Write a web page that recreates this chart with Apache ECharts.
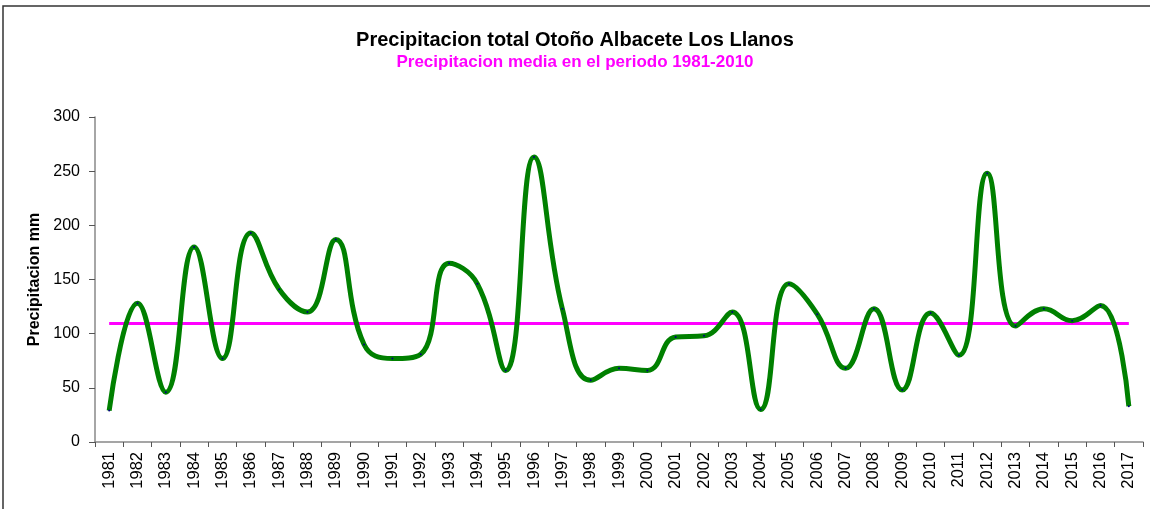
<!DOCTYPE html>
<html>
<head>
<meta charset="utf-8">
<script src="https://cdn.jsdelivr.net/npm/echarts@6/dist/echarts.min.js"></script>
<style>
  html, body { margin: 0; padding: 0; background: #fff; }
  #chart { width: 1150px; height: 509px; }
</style>
</head>
<body>
<div id="chart"></div>
<script>
var years = ["1981","1982","1983","1984","1985","1986","1987","1988","1989","1990",
  "1991","1992","1993","1994","1995","1996","1997","1998","1999","2000",
  "2001","2002","2003","2004","2005","2006","2007","2008","2009","2010",
  "2011","2012","2013","2014","2015","2016","2017"];
var precip = [29, 128, 46, 180, 77, 193, 141, 120, 187, 90,
  77, 81, 165, 146, 66, 263, 123, 57, 68, 66,
  97, 98, 120, 30, 146, 118, 68, 123, 48, 119,
  80, 248, 107, 123, 112, 126, 33];
var meanValue = 110;
var yTicks = [0, 50, 100, 150, 200, 250, 300];

var chart = echarts.init(document.getElementById("chart"));
var font = "Liberation Sans, Arial, sans-serif";

var option = {
  animation: false,
  backgroundColor: "#fff",
  title: [
    {
      text: "Precipitacion total Otoño Albacete Los Llanos",
      left: "center",
      top: 25,
      textStyle: { fontFamily: font, fontSize: 20, fontWeight: "bold", color: "#000" }
    },
    {
      text: "Precipitacion media en el periodo 1981-2010",
      left: "center",
      top: 49,
      textStyle: { fontFamily: font, fontSize: 17, fontWeight: "bold", color: "#ff00ff" }
    }
  ],
  graphic: [
    {
      type: "polyline",
      shape: { points: [[3, 509], [3, 6], [1150, 6]] },
      style: { stroke: "#333", lineWidth: 1.5, fill: null }
    }
  ],
  grid: { left: 95, right: 7, top: 117, bottom: 67 },
  xAxis: {
    type: "category",
    data: years,
    boundaryGap: true,
    axisLine: { lineStyle: { color: "#888", width: 1.5 } },
    axisTick: { show: true, length: 5, lineStyle: { color: "#555" } },
    axisLabel: {
      rotate: 90,
      interval: 0,
      fontFamily: font,
      fontSize: 16.5,
      color: "#000",
      margin: 10
    },
    splitLine: { show: false }
  },
  yAxis: {
    type: "value",
    min: yTicks[0],
    max: yTicks[yTicks.length - 1],
    interval: 50,
    name: "Precipitacion mm",
    nameLocation: "middle",
    nameGap: 42,
    nameRotate: 90,
    nameTextStyle: { fontFamily: font, fontSize: 16, fontWeight: "bold", color: "#000" },
    axisLine: { show: true, lineStyle: { color: "#888", width: 1.5 } },
    axisTick: { show: true, length: 6, lineStyle: { color: "#555" } },
    axisLabel: { fontFamily: font, fontSize: 16, color: "#000", margin: 15 },
    splitLine: { show: false }
  },
  series: [
    {
      name: "Precipitacion",
      type: "line",
      data: precip,
      smooth: 0.45,
      symbol: "circle",
      symbolSize: 2,
      itemStyle: { color: "#000080" },
      lineStyle: { color: "#008000", width: 5 },
      z: 3,
      markLine: {
        silent: true,
        symbol: "none",
        label: { show: false },
        lineStyle: { color: "#ff00ff", width: 3, type: "solid" },
        data: [[
          { coord: [years[0], meanValue] },
          { coord: [years[years.length - 1], meanValue] }
        ]],
        z: 2
      }
    }
  ]
};

chart.setOption(option);
</script>
</body>
</html>
